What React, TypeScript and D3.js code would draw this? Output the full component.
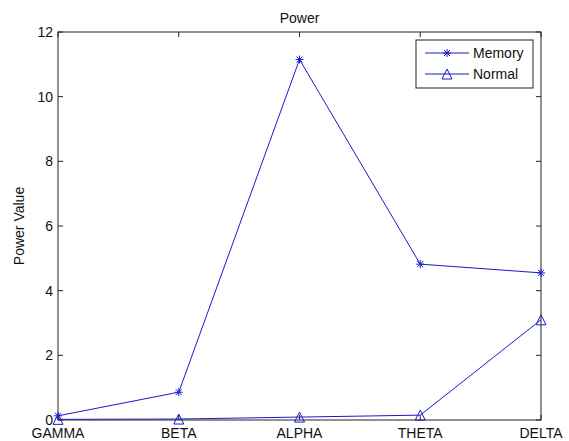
import React, { useRef, useEffect } from 'react';
import * as d3 from 'd3';

const bands = ['GAMMA', 'BETA', 'ALPHA', 'THETA', 'DELTA'];
const memory = [0.13, 0.86, 11.15, 4.82, 4.55];
const normal = [0.02, 0.03, 0.09, 0.15, 3.1];
const yTicks = [0, 2, 4, 6, 8, 10, 12];

const W = 569;
const H = 441;

const App = () => {
  const svgRef = useRef<SVGSVGElement>(null);

  useEffect(() => {
    const svg = d3.select(svgRef.current);
    svg.selectAll('*').remove();

    const margin = { top: 32, right: 28, bottom: 21, left: 58 };
    const innerWidth = W - margin.left - margin.right;
    const innerHeight = H - margin.top - margin.bottom;
    const font = 'Liberation Sans, Arial, sans-serif';
    const fs = 14;
    const lineColor = '#1a1acc';

    const x = d3.scalePoint<string>().domain(bands).range([0, innerWidth]);
    const y = d3.scaleLinear().domain([0, 12]).range([innerHeight, 0]);

    svg.append('rect').attr('width', W).attr('height', H).attr('fill', '#fff');

    const g = svg.append('g').attr('transform', `translate(${margin.left},${margin.top})`);

    // box
    g.append('rect')
      .attr('width', innerWidth)
      .attr('height', innerHeight)
      .attr('fill', 'none')
      .attr('stroke', '#222')
      .attr('stroke-width', 1);

    // ticks pointing inward, MATLAB style
    const tl = 5;
    yTicks.forEach(t => {
      g.append('line').attr('x1', 0).attr('x2', tl).attr('y1', y(t)).attr('y2', y(t)).attr('stroke', '#222');
      g.append('line').attr('x1', innerWidth).attr('x2', innerWidth - tl).attr('y1', y(t)).attr('y2', y(t)).attr('stroke', '#222');
      g.append('text')
        .attr('x', -5)
        .attr('y', y(t))
        .attr('dy', '0.35em')
        .attr('text-anchor', 'end')
        .attr('font-family', font)
        .attr('font-size', fs)
        .attr('fill', '#111')
        .text(t);
    });
    bands.forEach(b => {
      g.append('line').attr('x1', x(b)!).attr('x2', x(b)!).attr('y1', innerHeight).attr('y2', innerHeight - tl).attr('stroke', '#222');
      g.append('line').attr('x1', x(b)!).attr('x2', x(b)!).attr('y1', 0).attr('y2', tl).attr('stroke', '#222');
      g.append('text')
        .attr('x', x(b)!)
        .attr('y', innerHeight + 18)
        .attr('text-anchor', 'middle')
        .attr('font-family', font)
        .attr('font-size', fs)
        .attr('fill', '#111')
        .text(b);
    });

    const line = d3.line<number>()
      .x((d, i) => x(bands[i])!)
      .y(d => y(d));

    const star = (sel: any, cx: number, cy: number) => {
      const s = 4;
      const p = sel.append('g').attr('stroke', lineColor).attr('stroke-width', 1);
      p.append('line').attr('x1', cx - s).attr('x2', cx + s).attr('y1', cy).attr('y2', cy);
      p.append('line').attr('x1', cx).attr('x2', cx).attr('y1', cy - s).attr('y2', cy + s);
      p.append('line').attr('x1', cx - 3).attr('x2', cx + 3).attr('y1', cy - 3).attr('y2', cy + 3);
      p.append('line').attr('x1', cx - 3).attr('x2', cx + 3).attr('y1', cy + 3).attr('y2', cy - 3);
    };
    const tri = (sel: any, cx: number, cy: number) => {
      const s = 5;
      sel.append('path')
        .attr('d', `M${cx},${cy - s}L${cx + s},${cy + s}L${cx - s},${cy + s}Z`)
        .attr('fill', 'none')
        .attr('stroke', lineColor)
        .attr('stroke-width', 1);
    };

    g.append('path').datum(memory).attr('fill', 'none').attr('stroke', lineColor).attr('stroke-width', 1).attr('d', line);
    g.append('path').datum(normal).attr('fill', 'none').attr('stroke', lineColor).attr('stroke-width', 1).attr('d', line);
    memory.forEach((v, i) => star(g, x(bands[i])!, y(v)));
    normal.forEach((v, i) => tri(g, x(bands[i])!, y(v)));

    // title and y label
    svg.append('text')
      .attr('x', margin.left + innerWidth / 2)
      .attr('y', 23)
      .attr('text-anchor', 'middle')
      .attr('font-family', font)
      .attr('font-size', fs)
      .attr('fill', '#111')
      .text('Power');
    svg.append('text')
      .attr('transform', `translate(24,${margin.top + innerHeight / 2}) rotate(-90)`)
      .attr('text-anchor', 'middle')
      .attr('font-family', font)
      .attr('font-size', fs)
      .attr('fill', '#111')
      .text('Power Value');

    // legend
    const lg = svg.append('g').attr('transform', 'translate(416,40)');
    lg.append('rect').attr('width', 117).attr('height', 48).attr('fill', '#fff').attr('stroke', '#222');
    const items = [
      { name: 'Memory', draw: star },
      { name: 'Normal', draw: tri }
    ];
    items.forEach((it, i) => {
      const cy = 13 + i * 21;
      lg.append('line').attr('x1', 9).attr('x2', 53).attr('y1', cy).attr('y2', cy).attr('stroke', lineColor);
      it.draw(lg, 31, cy);
      lg.append('text')
        .attr('x', 57)
        .attr('y', cy)
        .attr('dy', '0.35em')
        .attr('font-family', font)
        .attr('font-size', fs)
        .attr('fill', '#111')
        .text(it.name);
    });
  }, []);

  return <svg ref={svgRef} width={W} height={H} style={{ position: 'absolute', left: 0, top: 0 }} />;
};

export default App;
